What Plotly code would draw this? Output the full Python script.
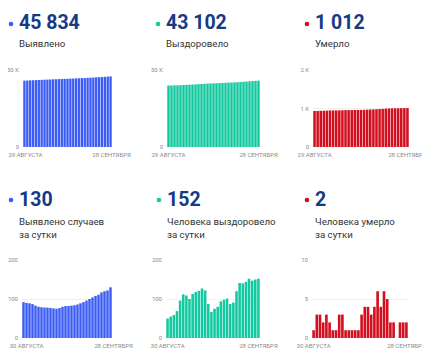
import pandas as pd
import plotly.graph_objects as go

# ---- data ----
cum_dates = [d.strftime("%Y-%m-%d") for d in pd.date_range("2020-08-29", "2020-09-28")]
daily_dates = cum_dates[1:]

cum_cases = [43087, 43179, 43269, 43358, 43445, 43528, 43608, 43687, 43765, 43843, 43920,
             43996, 44071, 44148, 44228, 44310, 44392, 44475, 44559, 44645, 44734, 44826,
             44922, 45022, 45126, 45234, 45345, 45462, 45582, 45704, 45834]
cum_recovered = [39925, 39975, 40030, 40089, 40158, 40254, 40366, 40475, 40575, 40688, 40806,
                 40927, 41054, 41176, 41263, 41330, 41405, 41485, 41579, 41677, 41778, 41865,
                 41956, 42076, 42217, 42357, 42501, 42653, 42800, 42950, 43102]
cum_deaths = [936, 937, 940, 943, 945, 948, 950, 951, 952, 955, 958, 959, 960, 961, 962, 963,
              966, 970, 974, 977, 981, 987, 991, 997, 1002, 1004, 1006, 1006, 1008, 1010, 1012]

daily_cases = [92, 90, 89, 87, 83, 80, 79, 78, 78, 77, 76, 75, 77, 80, 82, 82, 83, 84, 86, 89,
               92, 96, 100, 104, 108, 111, 117, 120, 122, 130]
daily_recovered = [50, 55, 59, 69, 96, 112, 109, 100, 113, 118, 121, 127, 122, 87, 67, 75, 80,
                   94, 98, 101, 87, 91, 120, 141, 140, 144, 152, 147, 150, 152]
daily_deaths = [1, 3, 3, 2, 3, 2, 1, 1, 3, 3, 1, 1, 1, 1, 1, 3, 4, 4, 3, 4, 6, 4, 6, 5, 2, 2, 0,
                2, 2, 2]

headline_values = ["45 834", "43 102", "1 012", "130", "152", "2"]
headline_labels = ["Выявлено", "Выздоровело", "Умерло",
                   "Выявлено случаев<br>за сутки", "Человека выздоровело<br>за сутки",
                   "Человека умерло<br>за сутки"]
cum_xticks = ["29 АВГУСТА", "28 СЕНТЯБРЯ"]
daily_xticks = ["30 АВГУСТА", "28 СЕНТЯБРЯ"]
yticks_big = [0, 50000]
yticks_big_text = ["0", "50 K"]
yticks_death = [0, 1000, 2000]
yticks_death_text = ["0", "1 K", "2 K"]
yticks_daily = [0, 100, 200]
yticks_daily_death = [0, 5, 10]

# ---- style ----
# the page body has an 8px margin, so the figure is drawn 8px right/down
OFF = 8
W, H = 430 - OFF, 355 - OFF
BLUE, GREEN, RED = "#3d5cf5", "#14c9a0", "#d20f1e"
NAVY = "#163a85"
FONT = "Roboto"

def px_x(v):
    return (v - OFF) / W

def px_y(v):
    return 1 - (v - OFF) / H

panels = [
    (cum_dates, cum_cases, BLUE, (23, 112), (70, 147), yticks_big, yticks_big_text, 50000, cum_xticks, 1),
    (cum_dates, cum_recovered, GREEN, (167, 260), (70, 147), yticks_big, yticks_big_text, 50000, cum_xticks, 0),
    (cum_dates, cum_deaths, RED, (313, 409), (70, 147), yticks_death, yticks_death_text, 2000, cum_xticks, 0),
    (daily_dates, daily_cases, BLUE, (22, 112), (260, 338), yticks_daily, [str(v) for v in yticks_daily], 200, daily_xticks, 3),
    (daily_dates, daily_recovered, GREEN, (166, 260), (260, 338), yticks_daily, [str(v) for v in yticks_daily], 200, daily_xticks, 0),
    (daily_dates, daily_deaths, RED, (312, 408), (260, 338), yticks_daily_death, [str(v) for v in yticks_daily_death], 10, daily_xticks, 0),
]

fig = go.Figure()
layout = dict(
    width=W, height=H, margin=dict(l=0, r=0, t=0, b=0, autoexpand=False),
    paper_bgcolor="white", plot_bgcolor="white", showlegend=False,
    bargap=0.18, font=dict(family=FONT),
)

for i, (xs, ys, col, (x0, x1), (y0, y1), tv, tt, ymax, xt, shift) in enumerate(panels, start=1):
    xa = "x" if i == 1 else f"x{i}"
    ya = "y" if i == 1 else f"y{i}"
    fig.add_trace(go.Bar(x=xs, y=ys, marker=dict(color=col, line=dict(width=0)),
                         xaxis=xa, yaxis=ya, hoverinfo="skip"))
    layout["xaxis" if i == 1 else f"xaxis{i}"] = dict(
        domain=[px_x(x0), px_x(x1)], anchor=ya, type="category",
        tickmode="array", tickvals=[xs[0], xs[-1]], ticktext=xt,
        showgrid=False, zeroline=False, showline=False, ticks="",
        tickfont=dict(size=6, color="#8a8a8a", family=FONT), tickangle=0,
        fixedrange=True, ticklabelstandoff=3, ticklabelshift=shift, automargin=False,
    )
    layout["yaxis" if i == 1 else f"yaxis{i}"] = dict(
        domain=[px_y(y1), px_y(y0)], anchor=xa, range=[0, ymax],
        tickmode="array", tickvals=tv, ticktext=tt,
        showgrid=True, gridcolor="#efefef", gridwidth=1, zeroline=False,
        showline=False, ticks="", tickfont=dict(size=6, color="#8a8a8a", family=FONT),
        ticklabelstandoff=3, fixedrange=True, automargin=False,
    )

fig.update_layout(**layout)

heads = [
    (18, 23, 43, BLUE), (165, 23, 43, GREEN), (314, 23, 43, RED),
    (18, 199, 228, BLUE), (166, 199, 228, GREEN), (314, 199, 228, RED),
]
shapes = []
for (hx, hy, ly, col), val, lab in zip(heads, headline_values, headline_labels):
    fig.add_annotation(x=px_x(hx - 1), y=px_y(hy), xref="paper", yref="paper",
                       text=f"<b>{val}</b>", showarrow=False, xanchor="left", yanchor="middle",
                       font=dict(family=FONT, size=19.5, color=NAVY))
    fig.add_annotation(x=px_x(hx - 1), y=px_y(ly), xref="paper", yref="paper",
                       text=lab, showarrow=False, xanchor="left", yanchor="middle", align="left",
                       font=dict(family=FONT, size=9.7, color="#333333"))
    cx, cy, r = hx - 7, hy + 1, 2.3
    shapes.append(dict(type="circle", xref="paper", yref="paper",
                       x0=px_x(cx - r), x1=px_x(cx + r), y0=px_y(cy + r), y1=px_y(cy - r),
                       fillcolor=col, line=dict(width=0)))
fig.update_layout(shapes=shapes)

fig.write_html("out.html")
